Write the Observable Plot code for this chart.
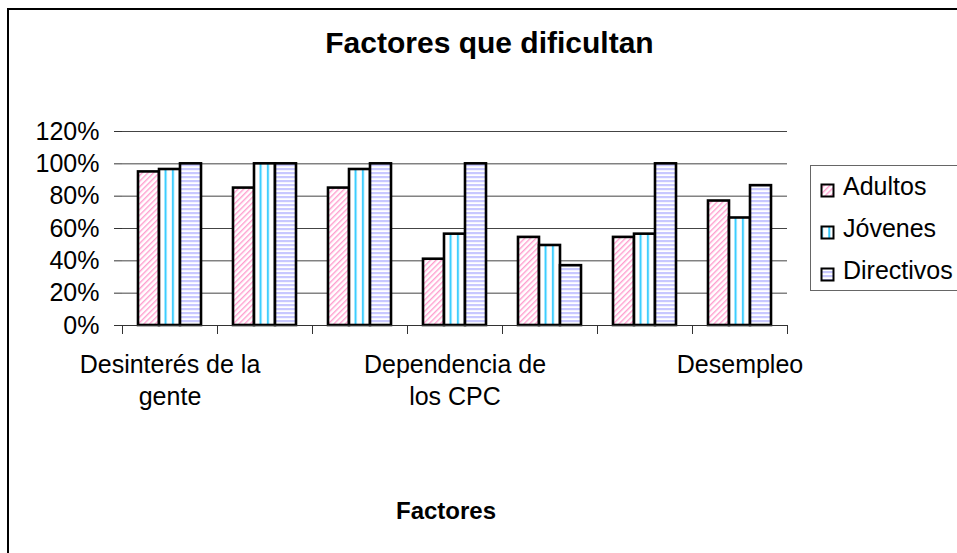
<!DOCTYPE html>
<html>
<head>
<meta charset="utf-8">
<script src="https://cdn.jsdelivr.net/npm/d3@7"></script>
<script src="https://cdn.jsdelivr.net/npm/@observablehq/plot@0.6"></script>
<style>
html, body { margin: 0; padding: 0; background: #fff; overflow: hidden; }
#wrap { position: relative; width: 957px; height: 553px; overflow: hidden; font-family: "Liberation Sans", Arial, sans-serif; color: #000; }
#border { position: absolute; left: 7px; top: 8px; width: 1000px; height: 600px; border: 2px solid #000; box-sizing: border-box; }
#chart { position: absolute; left: 0; top: 0; }
#title { position: absolute; left: 8px; width: 963px; top: 28px; text-align: center; font-weight: bold; font-size: 30px; line-height: 30px; white-space: nowrap; }
#xtitle { position: absolute; left: 346px; width: 200px; top: 498px; text-align: center; font-weight: bold; font-size: 24px; line-height: 25px; }
#legend { position: absolute; left: 810px; top: 165px; width: 200px; height: 126px; border: 1px solid #666; box-sizing: border-box; background: #fff; }
.item { position: absolute; left: 0; height: 25px; font-size: 25px; line-height: 25px; white-space: nowrap; }
.item svg { position: absolute; left: 9px; top: 9px; }
.item span { position: absolute; left: 32px; top: 0; }
</style>
</head>
<body>
<div id="wrap">
  <svg width="0" height="0" style="position:absolute">
    <defs>
      <pattern id="pat-adultos" width="4" height="4" patternUnits="userSpaceOnUse" patternTransform="rotate(45)">
        <rect width="4" height="4" fill="#fff"></rect>
        <rect width="1.4" height="4" fill="#ff9fcf"></rect>
      </pattern>
      <pattern id="pat-jovenes" width="7.3" height="4" patternUnits="userSpaceOnUse">
        <rect width="7.3" height="4" fill="#fff"></rect>
        <rect x="1" width="2" height="4" fill="#33ccff"></rect>
      </pattern>
      <pattern id="pat-directivos" width="4" height="4" patternUnits="userSpaceOnUse">
        <rect width="4" height="4" fill="#fff"></rect>
        <rect width="4" height="2.2" fill="#c8c8ff"></rect>
      </pattern>
    </defs>
  </svg>
  <div id="border"></div>
  <div id="chart"></div>
  <div id="title">Factores que dificultan</div>
  <div id="xtitle">Factores</div>
  <div id="legend"></div>
</div>
<script>
// ---- data ----
const categories = ["Desinterés de la gente", "Factor 2", "Factor 3", "Dependencia de los CPC", "Factor 5", "Factor 6", "Desempleo"];
const tickLabels = ["Desinterés de la\ngente", "", "", "Dependencia de\nlos CPC", "", "", "Desempleo"];
const series = ["Adultos", "Jóvenes", "Directivos"];
const adultos    = [0.95, 0.85, 0.85, 0.41, 0.545, 0.545, 0.77];
const jovenes    = [0.965, 1.00, 0.965, 0.565, 0.495, 0.565, 0.665];
const directivos = [1.00, 1.00, 1.00, 1.00, 0.37, 1.00, 0.865];
const yTicks = [0, 0.2, 0.4, 0.6, 0.8, 1.0, 1.2];
const patterns = ["url(#pat-adultos)", "url(#pat-jovenes)", "url(#pat-directivos)"];

const valuesBySeries = {"Adultos": adultos, "Jóvenes": jovenes, "Directivos": directivos};
const data = categories.flatMap((c, i) => series.map(s => ({cat: c, serie: s, value: valuesBySeries[s][i]})));
const labelOf = new Map(categories.map((c, i) => [c, tickLabels[i]]));

const chart = Plot.plot({
  width: 957,
  height: 553,
  marginLeft: 119,
  marginRight: 168,
  marginTop: 131,
  marginBottom: 228,
  style: {fontFamily: "'Liberation Sans', Arial, sans-serif", fontSize: "25px", color: "#000", background: "transparent", overflow: "visible"},
  fx: {domain: categories, padding: 0, label: null},
  x: {domain: series, paddingInner: 0, paddingOuter: 0.75, axis: null},
  y: {domain: [0, 1.2], axis: null},
  color: {domain: series, range: patterns},
  marks: [
    Plot.ruleY(yTicks.filter(d => d > 0), {stroke: "#444", strokeWidth: 1}),
    Plot.barY(data, {fx: "cat", x: "serie", y: "value", fill: "serie", stroke: "#000", strokeWidth: 2.6}),
    Plot.ruleY([0], {stroke: "#333", strokeWidth: 1}),
    Plot.frame({anchor: "left", insetTop: 194, insetBottom: -8, stroke: "#333"}),
    Plot.frame({anchor: "right", insetTop: 194, insetBottom: -8, stroke: "#333"}),
    Plot.axisY({ticks: yTicks, tickFormat: d3.format(".0%"), tickSize: 8, tickPadding: 15, line: true, stroke: "#333", fontSize: 25, label: null}),
    Plot.axisFx({anchor: "bottom", tickSize: 0, tickPadding: 24, tickFormat: d => labelOf.get(d), lineHeight: 1.3, fontSize: 25, label: null})
  ]
});
document.getElementById("chart").appendChild(chart);

// ---- legend ----
const legend = document.getElementById("legend");
series.forEach((s, i) => {
  const item = document.createElement("div");
  item.className = "item";
  item.style.top = (7.8 + 42 * i) + "px";
  item.innerHTML = `<svg width="15" height="15"><rect x="1.5" y="1.5" width="12" height="12" fill="${patterns[i]}" stroke="#000" stroke-width="2"></rect></svg><span>${s}</span>`;
  legend.appendChild(item);
});
</script>
</body>
</html>
